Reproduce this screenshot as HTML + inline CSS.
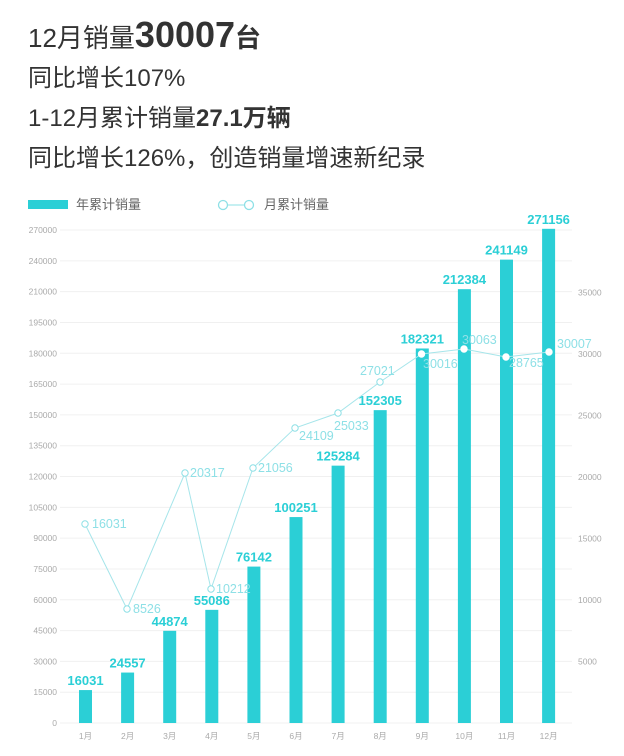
<!DOCTYPE html>
<html><head><meta charset="utf-8"><style>
body{margin:0;background:#fff;width:624px;height:756px;overflow:hidden;font-family:"Liberation Sans","Noto Sans CJK SC",sans-serif;}
.h{position:absolute;left:28px;color:#333;white-space:nowrap;}
</style></head><body>
<div class="h" style="top:14px;font-size:26px;">12月销量<b style="font-size:36px;">30007</b><b style="font-size:26px">台</b></div>
<div class="h" style="top:58px;font-size:24px;">同比增长107%</div>
<div class="h" style="top:98px;font-size:24px;">1-12月累计销量<b>27.1万辆</b></div>
<div class="h" style="top:138px;font-size:24px;">同比增长126%，创造销量增速新纪录</div>
<svg id="c" width="624" height="756" style="position:absolute;left:0;top:0" font-family="Liberation Sans, Noto Sans CJK SC, sans-serif"></svg>
<script>
(function(){
var s='';
s+='<rect x="28" y="200" width="40" height="9" fill="#2bcfd6"/><text x="76" y="209" font-size="13" fill="#666">年累计销量</text>';
s+='<line x1="223" y1="205" x2="249" y2="205" stroke="#8ee0e6"/><circle cx="223" cy="205" r="4.5" fill="#fff" stroke="#8ee0e6" stroke-width="1.3"/><circle cx="249" cy="205" r="4.5" fill="#fff" stroke="#8ee0e6" stroke-width="1.3"/><text x="264" y="209" font-size="13" fill="#666">月累计销量</text>';
var base=723,u=493/16;
function Y(v){ if(v<=210000) return base-v/15000*u; return base-14*u-(v-210000)/30000*u; }
var ticks=[];for(var i=0;i<=14;i++)ticks.push(i*15000);ticks.push(240000,270000);
ticks.forEach(function(t){var y=Y(t);s+='<line x1="60" x2="572" y1="'+y+'" y2="'+y+'" stroke="#f0f0f0"/>';s+='<text x="57" y="'+(y+3)+'" font-size="8.5" fill="#aaa" text-anchor="end">'+t+'</text>';});
for(var j=1;j<=7;j++){var y=base-j*61.5;s+='<text x="578" y="'+(y+3)+'" font-size="8.5" fill="#aaa">'+(j*5000)+'</text>';}
var B=[16031,24557,44874,55086,76142,100251,125284,152305,182321,212384,241149,271156];
var M=[16031,8526,20317,10212,21056,24109,25033,27021,30016,30063,28765,30007];
var P=[[85,524],[127,609],[185,473],[211,589],[253,468],[295,428],[338,413],[380,382],[421.5,354],[464,349],[506,357],[549,352]];
var L=[[92,528],[133,613],[190,477],[216,593],[258,472],[299,440],[334,430],[360,375],[423,368],[462,344],[509,367],[557,348]];
for(var k=0;k<12;k++){var cx=85.5+k*42.1;var ty=Y(B[k]);var h=base-ty;
s+='<rect x="'+(cx-6.5)+'" y="'+ty+'" width="13" height="'+h+'" fill="#2bcfd6"/>';
s+='<text x="'+cx+'" y="'+(ty-5)+'" font-size="13" font-weight="bold" fill="#2bcfd6" text-anchor="middle">'+B[k]+'</text>';
s+='<text x="'+cx+'" y="739" font-size="8.5" fill="#aaa" text-anchor="middle">'+(k+1)+'月</text>';}
s+='<polyline fill="none" stroke="#a6e5ea" stroke-width="1" points="'+P.map(function(p){return p.join(',')}).join(' ')+'"/>';
for(var k=0;k<12;k++){var p=P[k];var f=k>=8;
s+='<circle cx="'+p[0]+'" cy="'+p[1]+'" r="3.2" fill="#fff" stroke="'+(f?'#fff':'#8ee0e6')+'" stroke-width="1"/>';
s+='<text x="'+L[k][0]+'" y="'+L[k][1]+'" font-size="12.5" fill="#8ee0e6">'+M[k]+'</text>';}
document.getElementById('c').innerHTML=s;
})();
</script>
</body></html>
